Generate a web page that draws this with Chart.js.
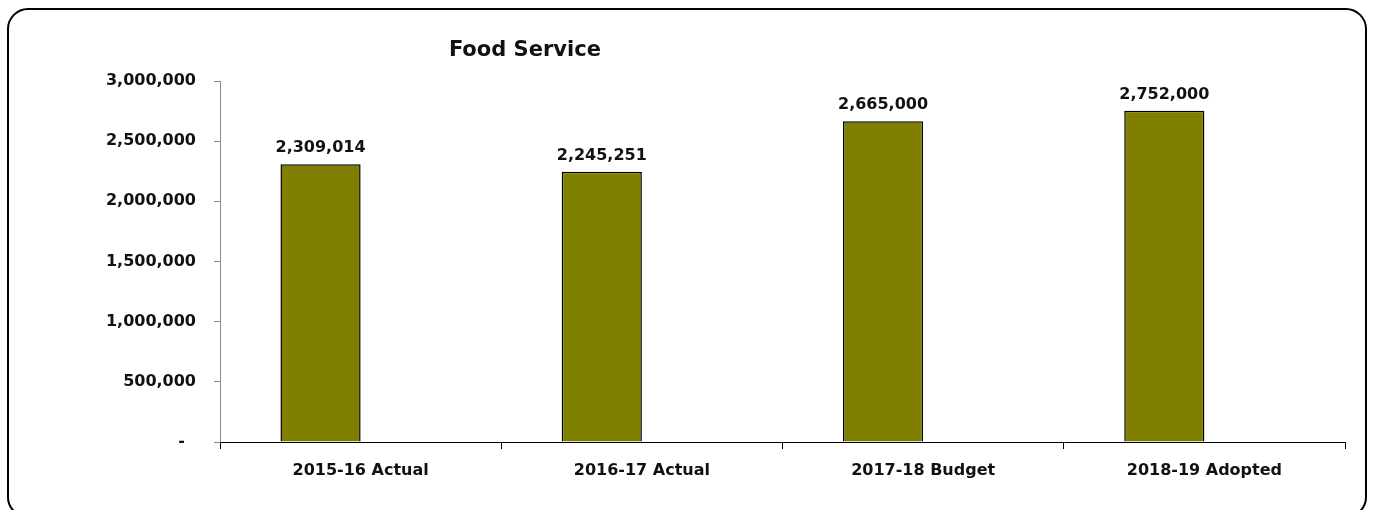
<!DOCTYPE html>
<html>
<head>
<meta charset="utf-8">
<script src="https://cdn.jsdelivr.net/npm/chart.js@4"></script>
<style>
  html, body { margin: 0; padding: 0; background: #fff; overflow: hidden; }
  canvas { display: block; }
</style>
</head>
<body>
<canvas id="c" width="1374" height="510"></canvas>
<script>
const categories = ['2015-16 Actual', '2016-17 Actual', '2017-18 Budget', '2018-19 Adopted'];
const foodService = [2309014, 2245251, 2665000, 2752000];
// second slot in each group is left empty, so the bar sits left of the category centre
const emptySeries = [null, null, null, null];
const yTicks = [0, 500000, 1000000, 1500000, 2000000, 2500000, 3000000];
const chartTitle = 'Food Service';

const FONT = '"DejaVu Sans", "Open Sans", sans-serif';

// Rounded outline around the whole chart (runs off the bottom edge)
const outerFrame = {
  id: 'outerFrame',
  beforeDraw(chart) {
    const ctx = chart.ctx;
    ctx.save();
    ctx.strokeStyle = '#000';
    ctx.lineWidth = 2;
    ctx.beginPath();
    ctx.roundRect(8, 9, 1358, 508, 20);
    ctx.stroke();
    ctx.restore();
  }
};

// Draws the value above each bar
const valueLabels = {
  id: 'valueLabels',
  afterDatasetsDraw(chart) {
    const ctx = chart.ctx;
    const meta = chart.getDatasetMeta(0);
    ctx.save();
    ctx.font = 'bold 16px ' + FONT;
    ctx.fillStyle = '#111';
    ctx.textAlign = 'center';
    ctx.textBaseline = 'bottom';
    meta.data.forEach((bar, i) => {
      ctx.fillText(foodService[i].toLocaleString('en-US'), bar.x, bar.y - 8);
    });
    ctx.restore();
  }
};

// Chart heading, set toward the left of the plot
const heading = {
  id: 'heading',
  afterDraw(chart) {
    const ctx = chart.ctx;
    const a = chart.chartArea;
    ctx.save();
    ctx.font = 'bold 21px ' + FONT;
    ctx.fillStyle = '#111';
    ctx.textAlign = 'center';
    ctx.textBaseline = 'middle';
    ctx.fillText(chartTitle, a.left + (a.right - a.left) * 0.271, a.top - 30);
    ctx.restore();
  }
};

new Chart(document.getElementById('c'), {
  type: 'bar',
  data: {
    labels: categories,
    datasets: [{
      data: foodService,
      backgroundColor: '#808000',
      borderColor: '#000',
      borderWidth: 1.5,
      barPercentage: 1,
      categoryPercentage: 0.57
    }, {
      data: emptySeries,
      backgroundColor: '#808000',
      borderColor: '#000',
      borderWidth: 1.5,
      barPercentage: 1,
      categoryPercentage: 0.57
    }]
  },
  options: {
    responsive: false,
    animation: false,
    layout: { padding: { left: 0, right: 29, top: 81, bottom: 0 } },
    plugins: { legend: { display: false }, tooltip: { enabled: false }, title: { display: false } },
    scales: {
      y: {
        min: 0, max: 3000000,
        afterBuildTicks(s) { s.ticks = yTicks.map(v => ({ value: v })); },
        afterFit(s) { s.width = 220; },
        grid: { drawOnChartArea: false, drawTicks: true, tickLength: 6, color: '#888' },
        border: { color: '#888', width: 1 },
        ticks: {
          padding: 18,
          color: '#111',
          font: { family: FONT, size: 16, weight: 'bold' },
          callback: v => v === 0 ? '-  ' : Number(v).toLocaleString('en-US')
        }
      },
      x: {
        afterFit(s) { s.height = 68; },
        grid: { drawOnChartArea: false, drawTicks: true, tickLength: 7, color: '#000', offset: true },
        border: { color: '#000', width: 1 },
        ticks: {
          padding: 12,
          color: '#111',
          font: { family: FONT, size: 16, weight: 'bold' }
        }
      }
    }
  },
  plugins: [outerFrame, valueLabels, heading]
});
</script>
</body>
</html>
